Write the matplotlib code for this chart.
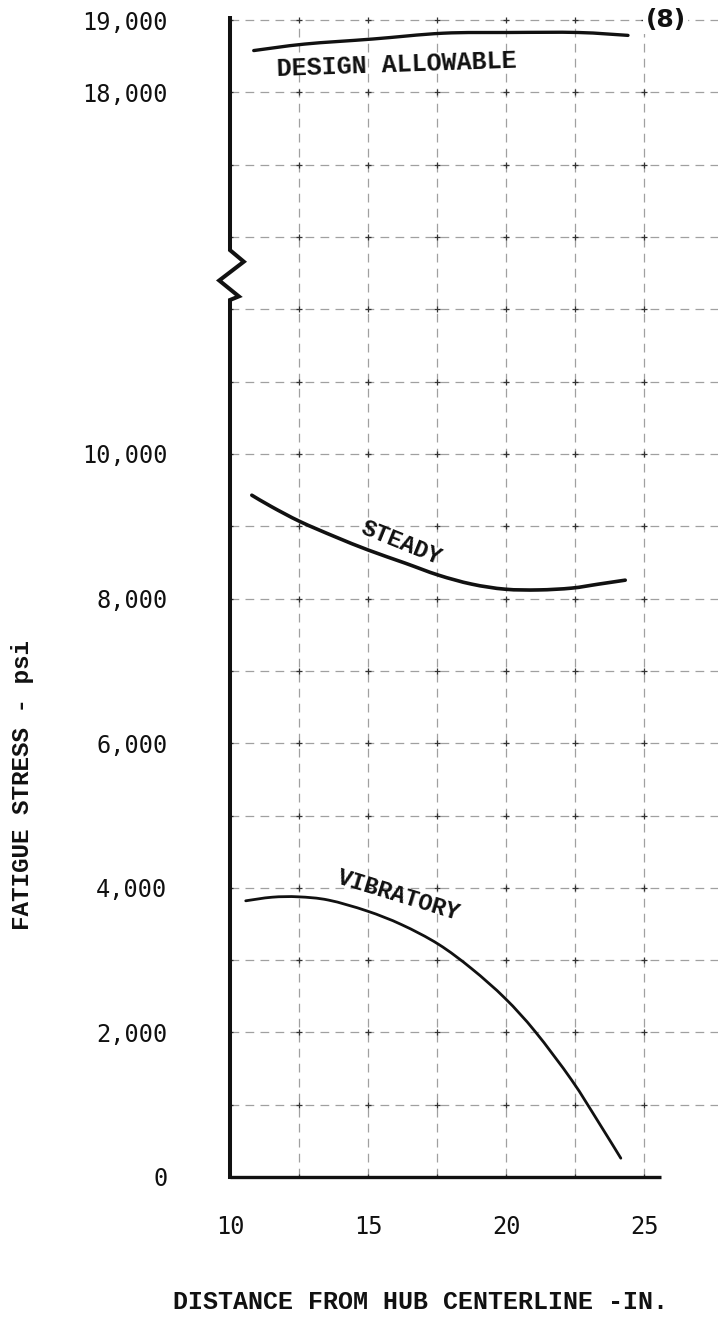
import numpy as np
import matplotlib
matplotlib.use("Agg")
import matplotlib.pyplot as plt
from matplotlib.path import Path
from matplotlib.patches import PathPatch

# Fatigue stress along the blade, psi, versus distance from hub centerline, in.
design_x = [10.86, 12.71, 15.18, 17.72, 20.13, 22.61, 24.42]
design_y = [18580, 18670, 18740, 18820, 18830, 18830, 18790]

steady_x = [10.79, 11.51, 12.54, 13.81, 15.02, 16.35, 17.55, 18.76, 19.97,
            21.18, 22.38, 23.35, 24.32]
steady_y = [9430, 9270, 9065, 8855, 8670, 8490, 8325, 8200, 8130,
            8120, 8145, 8200, 8255]

vib_x = [10.57, 11.53, 12.48, 13.57, 14.96, 16.22, 17.55, 18.76, 19.97,
         21.06, 22.38, 23.35, 24.16]
vib_y = [3820, 3870, 3875, 3830, 3680, 3490, 3220, 2880, 2470,
         2010, 1340, 760, 260]

x_ticks = [10, 15, 20, 25]
x_grid = [12.5, 15, 17.5, 20, 22.5, 25]
y_ticks = [0, 2000, 4000, 6000, 8000, 10000, 18000, 19000]
y_grid = [1000, 2000, 3000, 4000, 5000, 6000, 7000, 8000, 9000, 10000,
          11000, 12000, 16000, 17000, 18000, 19000]


# Broken stress axis: 12,000-16,000 psi squeezed into a single grid cell
def fwd(v):
    v = np.asarray(v, dtype=float)
    return np.where(v <= 12000, v / 1000.0,
                    np.where(v < 16000, 12 + (v - 12000) / 4000.0, v / 1000.0 - 3))


def inv(p):
    p = np.asarray(p, dtype=float)
    return np.where(p <= 12, p * 1000.0,
                    np.where(p < 13, 12000 + (p - 12) * 4000.0, (p + 3) * 1000.0))


def smooth_curve(xs, ys):
    """Catmull-Rom curve through the given points, as cubic Bezier segments."""
    pts = np.column_stack([xs, ys]).astype(float)
    ext = np.vstack([pts[0], pts, pts[-1]])
    verts = [pts[0]]
    codes = [Path.MOVETO]
    for i in range(len(pts) - 1):
        p0, p1, p2, p3 = ext[i], ext[i + 1], ext[i + 2], ext[i + 3]
        verts += [p1 + (p2 - p0) / 6.0, p2 - (p3 - p1) / 6.0, p2]
        codes += [Path.CURVE4] * 3
    return Path(np.array(verts), codes)


W, H = 718, 1328
PX_IN = 27.6     # pixels per inch of distance
PX_K = 72.3      # pixels per 1,000 psi
fig = plt.figure(figsize=(W / 100, H / 100), dpi=100)
fig.patch.set_facecolor("white")
left_px, bottom_px = 230, 1177
ax = fig.add_axes([left_px / W, 1 - bottom_px / H, 1 - left_px / W, bottom_px / H])
ax.set_yscale("function", functions=(fwd, inv))
ax.set_xlim(10, 10 + (W - left_px) / PX_IN)
ax.set_ylim(0, float(inv(bottom_px / PX_K)))

mono = "Liberation Mono"
digits = "DejaVu Sans Mono"
ink = "#111111"

# dashed grid with small crosses at the intersections
grid_kw = dict(color="#a0a0a0", linewidth=0.9, linestyles=(0, (7, 5)), zorder=1)
ax.hlines(y_grid, 10, ax.get_xlim()[1], **grid_kw)
ax.vlines(x_grid, 0, 19000, **grid_kw)
gx, gy = np.meshgrid([10] + x_grid, [0] + y_grid)
ax.scatter(gx.ravel(), gy.ravel(), marker="+", s=22, color="#333333",
           linewidths=0.9, zorder=2)

# axes: thick left axis with a break, bottom axis up to 25.6
for s in ax.spines.values():
    s.set_visible(False)
ax.plot([10, 25.6], [0, 0], color=ink, lw=2.4, solid_capstyle="butt",
        zorder=4, clip_on=False)
brk_x = [10, 10, 10.32, 9.61, 10.5, 10, 10]
brk_p = [0, 12.13, 12.18, 12.40, 12.66, 12.82, 16.03]
ax.plot(brk_x, inv(brk_p), color=ink, lw=2.9, solid_joinstyle="miter",
        zorder=4, clip_on=False)

# curves
for xs, ys, lw in [(design_x, design_y, 2.4), (steady_x, steady_y, 2.6),
                   (vib_x, vib_y, 2.0)]:
    ax.add_patch(PathPatch(smooth_curve(xs, ys), facecolor="none", edgecolor=ink,
                           lw=lw, capstyle="round", zorder=3))

ax.text(16.03, 18380, "DESIGN ALLOWABLE", family=mono, weight="bold", fontsize=18,
        rotation=2, ha="center", va="center", color=ink, zorder=5)
ax.text(16.21, 8770, "STEADY", family=mono, weight="bold", fontsize=17,
        rotation=-22, ha="center", va="center", color=ink, zorder=5)
ax.text(16.1, 3890, "VIBRATORY", family=mono, weight="bold", fontsize=17,
        rotation=-17, ha="center", va="center", color=ink, zorder=5)
ax.text(25.78, 19000, "(8)", family="DejaVu Sans", weight="bold", fontsize=18,
        ha="center", va="center", color=ink, zorder=5,
        bbox=dict(facecolor="white", edgecolor="none", pad=1.5))

# ticks
ax.set_xticks(x_ticks)
ax.set_xticklabels([str(t) for t in x_ticks], family=digits, fontsize=17, color=ink)
ax.set_yticks(y_ticks)
ax.set_yticklabels([f"{t:,}" for t in y_ticks], family=digits, fontsize=17, color=ink)
ax.yaxis.set_minor_locator(matplotlib.ticker.NullLocator())
ax.tick_params(axis="y", length=0, pad=45)
ax.tick_params(axis="x", length=0, pad=27)

fig.text(420 / W, 1 - 1302 / H, "DISTANCE FROM HUB CENTERLINE -IN.", family=mono,
         weight="bold", fontsize=18, ha="center", va="center", color=ink)
fig.text(23 / W, 1 - 785 / H, "FATIGUE STRESS - psi", family=mono, weight="bold",
         fontsize=17.5, rotation=90, ha="center", va="center", color=ink)

fig.savefig("out.png", dpi=100, facecolor="white")
